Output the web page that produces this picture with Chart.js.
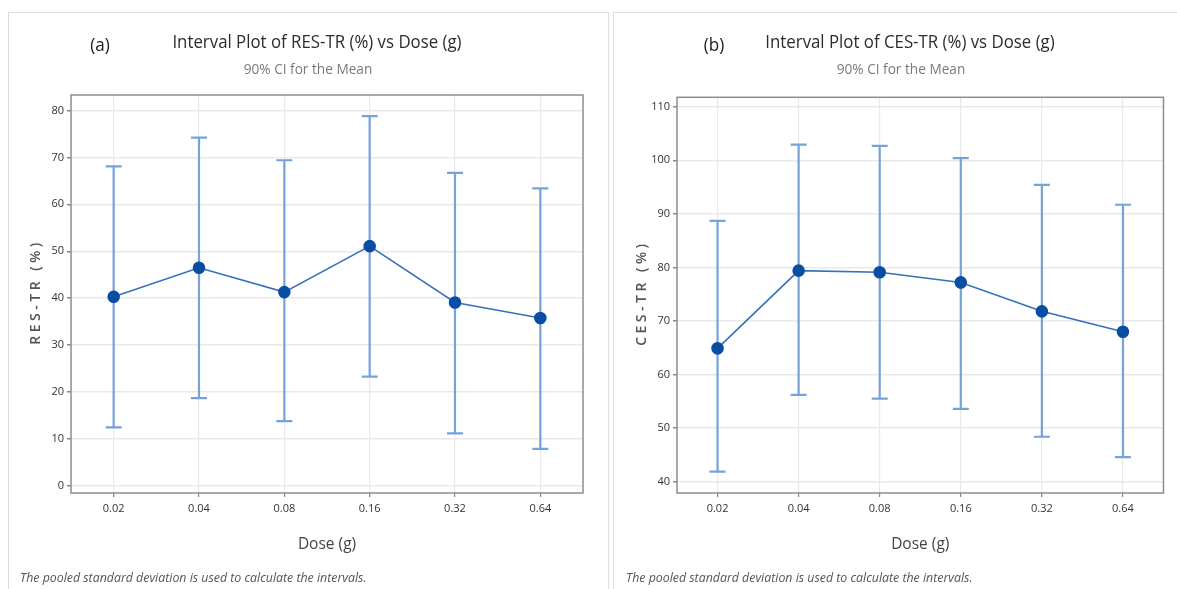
<!DOCTYPE html>
<html>
<head>
<meta charset="utf-8">
<script src="https://cdn.jsdelivr.net/npm/chart.js@4.4.1/dist/chart.umd.min.js"></script>
<style>
  body { margin: 0; background: #fff; width: 1177px; height: 589px; overflow: hidden; position: relative; }
  .panel { position: absolute; top: 12px; height: 590px; border: 1px solid #dedede; box-sizing: border-box; }
  #pa { left: 8px; width: 601px; }
  #pb { left: 613px; width: 570px; }
  canvas { position: absolute; top: 12px; }
  #ca { left: 8px; }
  #cb { left: 613px; }
</style>
</head>
<body>
<div class="panel" id="pa"></div>
<div class="panel" id="pb"></div>
<canvas id="ca" width="600" height="577"></canvas>
<canvas id="cb" width="564" height="577"></canvas>
<script>
// dose groups
const doseLabels = ['0.02', '0.04', '0.08', '0.16', '0.32', '0.64'];

// (a) RES-TR (%) : mean and 90% CI
const resMean  = [40.3, 46.5, 41.3, 51.1, 39.1, 35.8];
const resUpper = [68.1, 74.2, 69.4, 78.8, 66.7, 63.4];
const resLower = [12.5, 18.7, 13.8, 23.3, 11.2, 7.9];

// (b) CES-TR (%) : mean and 90% CI
const cesMean  = [64.9, 79.4, 79.1, 77.2, 71.8, 68.0];
const cesUpper = [88.7, 102.9, 102.7, 100.4, 95.4, 91.7];
const cesLower = [41.9, 56.2, 55.5, 53.6, 48.4, 44.6];

const footnote = 'The pooled standard deviation is used to calculate the intervals.';

const FONT = "'Open Sans', 'Noto Sans', sans-serif";

// text squeezed horizontally, like the condensed Minitab font
function narrowText(ctx, text, x, y, sx) {
  ctx.save();
  ctx.translate(x, y);
  ctx.scale(sx, 1);
  ctx.fillText(text, 0, 0);
  ctx.restore();
}

// error bars + plot frame, drawn under the mean line
const intervalPlugin = {
  id: 'intervals',
  beforeDatasetsDraw(chart, args, opts) {
    const { ctx, chartArea: a, scales: { x, y } } = chart;
    ctx.save();
    ctx.strokeStyle = '#8d8d8d';
    ctx.lineWidth = 1.5;
    ctx.strokeRect(a.left, a.top, a.right - a.left, a.bottom - a.top);
    ctx.strokeStyle = '#76a2d8';
    ctx.lineWidth = 2.2;
    opts.upper.forEach((hi, i) => {
      const px = x.getPixelForValue(i);
      const yHi = y.getPixelForValue(hi);
      const yLo = y.getPixelForValue(opts.lower[i]);
      ctx.beginPath();
      ctx.moveTo(px, yHi); ctx.lineTo(px, yLo);
      ctx.moveTo(px - 8, yHi); ctx.lineTo(px + 8, yHi);
      ctx.moveTo(px - 8, yLo); ctx.lineTo(px + 8, yLo);
      ctx.stroke();
    });
    ctx.restore();
  }
};

// headings, y title and footnote
const textPlugin = {
  id: 'texts',
  afterDraw(chart, args, o) {
    const { ctx, chartArea: a } = chart;
    ctx.save();
    ctx.textBaseline = 'middle';
    ctx.textAlign = 'center';
    ctx.fillStyle = '#222';
    ctx.font = '18px ' + FONT;
    narrowText(ctx, o.tag, o.tagX, 34, 0.95);
    ctx.fillStyle = '#2c2c2c';
    ctx.font = '19px ' + FONT;
    narrowText(ctx, o.title, o.titleX, 31, 0.885);
    ctx.fillStyle = '#7a7a7a';
    ctx.font = '14.5px ' + FONT;
    narrowText(ctx, '90% CI for the Mean', o.subX, 58, 0.94);

    ctx.save();
    ctx.translate(o.yTitleX, (a.top + a.bottom) / 2);
    ctx.rotate(-Math.PI / 2);
    ctx.fillStyle = '#555';
    ctx.font = '600 14px ' + FONT;
    ctx.letterSpacing = '3.5px';
    ctx.fillText(o.yTitle, 2, 0);
    ctx.restore();

    ctx.textAlign = 'left';
    ctx.fillStyle = '#555';
    ctx.font = 'italic 13px ' + FONT;
    narrowText(ctx, footnote, o.footX, 566, 0.95);
    ctx.restore();
  }
};

function makeChart(id, cfg) {
  return new Chart(document.getElementById(id), {
    type: 'line',
    data: {
      labels: doseLabels,
      datasets: [{
        data: cfg.mean,
        borderColor: '#3570bb',
        borderWidth: 1.6,
        pointRadius: 5.5,
        pointHoverRadius: 5.5,
        pointBackgroundColor: '#0a4ea3',
        pointBorderColor: '#0a4ea3',
        tension: 0
      }]
    },
    options: {
      responsive: false,
      animation: false,
      layout: { padding: { left: 0, right: cfg.padRight, top: cfg.padTop, bottom: 34 } },
      plugins: {
        legend: { display: false },
        tooltip: { enabled: false },
        intervals: { upper: cfg.upper, lower: cfg.lower },
        texts: cfg.texts
      },
      scales: {
        x: {
          type: 'category',
          offset: true,
          afterFit(s) { s.height = 62; },
          grid: { offset: false, color: '#e9e9e9', lineWidth: 1.2, tickLength: 4, tickColor: '#888' },
          border: { display: false },
          ticks: { color: '#333', font: { family: FONT, size: 11 }, padding: 5, maxRotation: 0 },
          title: { display: true, text: 'Dose (g)', color: '#444', font: { family: FONT, size: 15.5 }, padding: { top: 0, bottom: 1 } }
        },
        y: {
          min: cfg.yMin,
          max: cfg.yMax,
          afterFit(s) { s.width = cfg.yWidth; },
          grid: { color: '#e9e9e9', lineWidth: 1.5, tickLength: 4, tickColor: '#888' },
          border: { display: false },
          ticks: { stepSize: 10, includeBounds: false, color: '#333', font: { family: FONT, size: 11 }, padding: 3 }
        }
      }
    },
    plugins: [intervalPlugin, textPlugin]
  });
}

makeChart('ca', {
  mean: resMean, upper: resUpper, lower: resLower,
  yMin: -1.5, yMax: 83.3, yWidth: 63, padRight: 25, padTop: 83,
  texts: { tag: '(a)', tagX: 92, title: 'Interval Plot of RES-TR (%) vs Dose (g)', titleX: 309, subX: 300,
           yTitle: 'RES-TR (%)', yTitleX: 28, footX: 12 }
});

makeChart('cb', {
  mean: cesMean, upper: cesUpper, lower: cesLower,
  yMin: 37.9, yMax: 111.75, yWidth: 64, padRight: 13.5, padTop: 85.3,
  texts: { tag: '(b)', tagX: 101, title: 'Interval Plot of CES-TR (%) vs Dose (g)', titleX: 297, subX: 288,
           yTitle: 'CES-TR (%)', yTitleX: 29, footX: 13 }
});
</script>
</body>
</html>
